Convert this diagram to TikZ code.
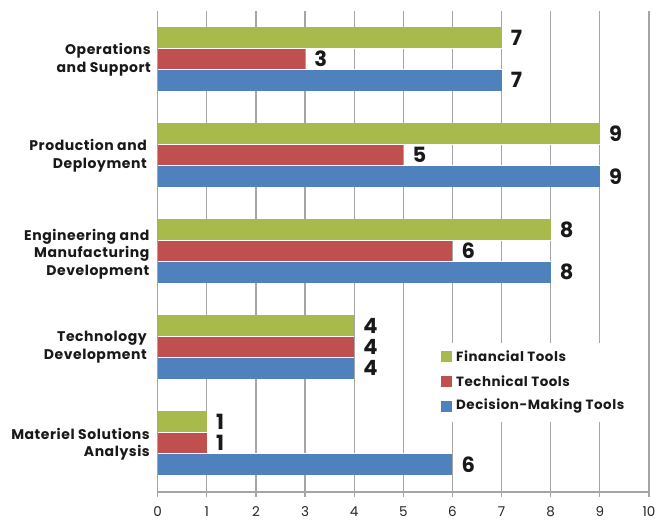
\documentclass[tikz,border=0pt]{standalone}
\usepackage{fontspec}
\setmainfont{Poppins}
\definecolor{fin}{RGB}{168,186,75}
\definecolor{tec}{RGB}{192,80,77}
\definecolor{dec}{RGB}{79,129,189}
\definecolor{grd}{RGB}{165,165,165}
\begin{document}
\begin{tikzpicture}[x=1pt,y=-1pt,
  gridline/.style={draw=grd,line width=1.2pt},
  catlabel/.style={anchor=east,align=right,font=\fontsize{14}{17.5}\selectfont\bfseries\addfontfeatures{LetterSpace=4},text=black!90,inner sep=0pt},
  vallabel/.style={anchor=west,font=\fontsize{21}{21}\selectfont\bfseries,text=black!90,inner sep=1pt,fill=white},
  ticklabel/.style={font=\fontsize{13.5}{13.5}\selectfont,text=black!85,inner sep=0pt},
  legtext/.style={anchor=west,font=\fontsize{13.4}{13.4}\selectfont\bfseries\addfontfeatures{LetterSpace=4},text=black!90,inner sep=0pt},
  legbox/.style={minimum size=11pt,inner sep=0pt,anchor=north west}]
\useasboundingbox (0,0) rectangle (657,521);
\fill[white] (0,0) rectangle (657,521);
% grid and ticks
\foreach \i in {0,...,10}{
  \draw[gridline] ({157.7+49.13*\i},11) -- ({157.7+49.13*\i},497);
  \node[ticklabel] (t\i) at ({157.7+49.13*\i},512) {\i};
}
\draw[gridline] (157.7,492) -- (649,492);
% bars
\foreach \k/\g/\r/\b in {0/7/3/7,1/9/5/9,2/8/6/8,3/4/4/4,4/1/1/6}{
  \pgfmathsetmacro{\yy}{27+96*\k}
  \fill[fin] (157.7,\yy) rectangle ({157.7+49.13*\g},{\yy+21.3});
  \fill[tec] (157.7,{\yy+21.3}) rectangle ({157.7+49.13*\r},{\yy+42.6});
  \fill[dec] (157.7,{\yy+42.6}) rectangle ({157.7+49.13*\b},{\yy+64});
  \draw[white,line width=0.6pt] (157.7,{\yy+21.3}) -- ({157.7+49.13*max(\g,\r)},{\yy+21.3});
  \draw[white,line width=0.6pt] (157.7,{\yy+42.6}) -- ({157.7+49.13*max(\b,\r)},{\yy+42.6});
  \node[vallabel] (vg\k) at ({157.7+49.13*\g+8},{\yy+10.8}) {\g};
  \node[vallabel] (vr\k) at ({157.7+49.13*\r+8},{\yy+32}) {\r};
  \node[vallabel] (vb\k) at ({157.7+49.13*\b+8},{\yy+53.3}) {\b};
}
\draw[gridline] (157.7,11) -- (157.7,497);
% category labels
\node[catlabel] (c0) at (151,60) {Operations\\and Support};
\node[catlabel] (c1) at (147,156) {Production and\\Deployment};
\node[catlabel] (c2) at (149.5,254) {Engineering and\\Manufacturing\\Development};
\node[catlabel] (c3) at (147,347) {Technology\\Development};
\node[catlabel] (c4) at (150,444) {Materiel Solutions\\Analysis};
% legend
\fill[white] (434,343) rectangle (632,422);
\node[legbox,fill=fin] (lf) at (441,351) {};
\node[legbox,fill=tec] (lt) at (441,376) {};
\node[legbox,fill=dec] (ld) at (441,400.5) {};
\node[legtext] (lft) at (456,356.5) {Financial Tools};
\node[legtext] (ltt) at (456,381.5) {Technical Tools};
\node[legtext] (ldt) at (456,406) {Decision-Making Tools};
\end{tikzpicture}
\end{document}
